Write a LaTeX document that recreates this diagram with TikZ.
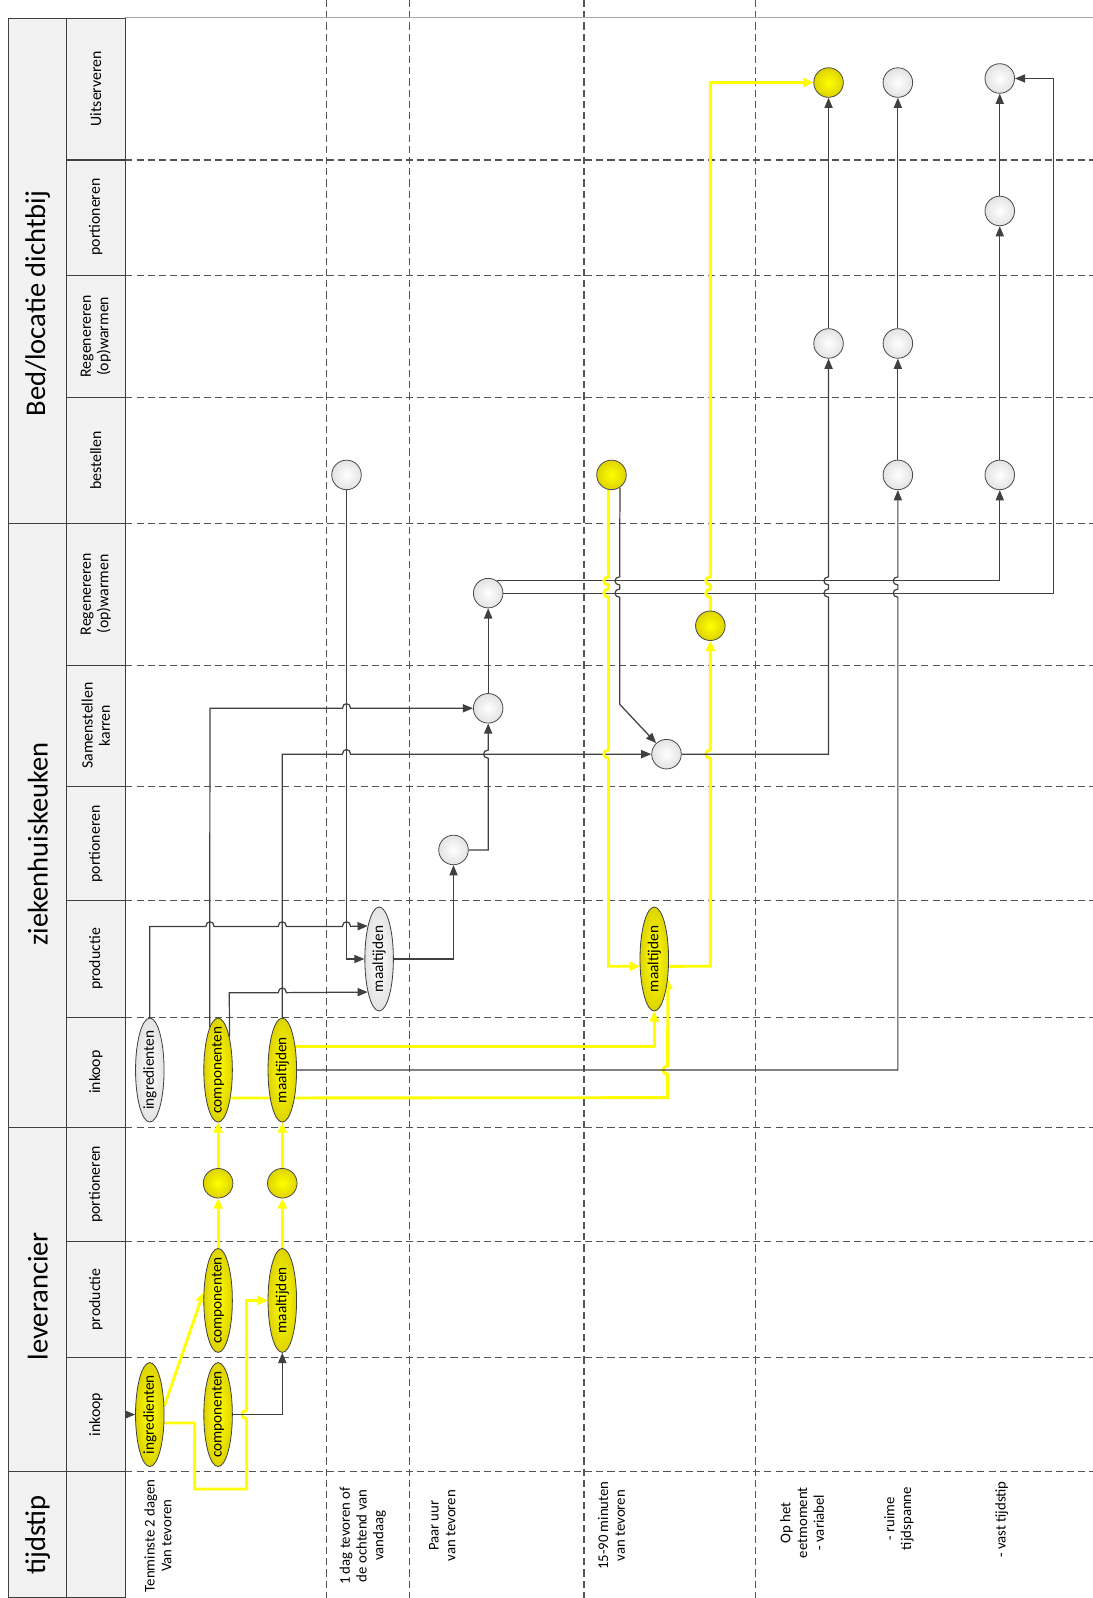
\documentclass[tikz,border=0pt]{standalone}
\usepackage{fontspec}
\setmainfont{Carlito}
\usepackage{graphicx}
\usetikzlibrary{arrows.meta,shapes.geometric}
\definecolor{ylw}{RGB}{255,255,0}
\definecolor{ylwd}{RGB}{222,212,0}
\definecolor{lnk}{RGB}{64,64,64}
\definecolor{grd}{RGB}{85,85,85}
\definecolor{hdr}{RGB}{242,242,242}
\pgfdeclarelayer{gridl}
\pgfdeclarelayer{edgel}
\pgfsetlayers{gridl,edgel,main}
\newcommand{\vt}[1]{\rotatebox{90}{\makebox[0pt]{#1}}}
\newcommand{\hopr}[2]{-- ({#1-4},#2) .. controls ({#1-4},{#2-6}) and ({#1+4},{#2-6}) .. ({#1+4},#2)}
\newcommand{\hopu}[2]{-- (#1,{#2+4}) .. controls ({#1-6},{#2+4}) and ({#1-6},{#2-4}) .. (#1,{#2-4})}
\newcommand{\hopd}[2]{-- (#1,{#2-4}) .. controls ({#1-6},{#2-4}) and ({#1-6},{#2+4}) .. (#1,{#2+4})}
\tikzset{
  grid/.style={draw=grd, line width=1.1pt, dash pattern=on 7pt off 4pt},
  hcell/.style={draw=lnk, line width=1.1pt, fill=hdr},
  blk/.style={draw=lnk, line width=1.2pt, -{Triangle[length=10pt,width=8pt]}},
  yl/.style={draw=ylw, line width=2.8pt, -{Triangle[length=10pt,width=9pt]}},
  elbase/.style={ellipse, draw=black!75, line width=0.8pt, minimum width=28pt, minimum height=102pt, inner sep=0pt, font=\fontsize{15}{17}\selectfont},
  yel/.style={elbase, inner color=ylw, outer color=ylwd},
  wel/.style={elbase, inner color=white, outer color=gray!22},
  cbase/.style={circle, draw=black!70, line width=0.8pt, minimum size=29pt, inner sep=0pt},
  ycir/.style={cbase, inner color=ylw, outer color=ylwd},
  wcir/.style={cbase, inner color=white, outer color=gray!22},
  sub/.style={rotate=90, font=\fontsize{15.5}{17}\selectfont, align=center},
  lane/.style={rotate=90, font=\fontsize{28}{31}\selectfont},
  tlab/.style={rotate=90, font=\fontsize{14.5}{16.5}\selectfont, align=center},
}
\begin{document}
\begin{tikzpicture}[x=1pt,y=-1pt]
\useasboundingbox (0,0) rectangle (1072,1568);
\begin{pgfonlayer}{gridl}
\fill[white] (0,0) rectangle (1072,1568);
\foreach \y in {157,270,390,514,653,772,884,998,1106,1218,1332,1444}
  \draw[grid] (123,\y) -- (1072,\y);
\foreach \x in {320,402,573,741}
  \draw[grid] (\x,0) -- (\x,1568);
\draw[gray!70, line width=1.6pt] (123,17) -- (1072,17);
\end{pgfonlayer}
% header
\foreach \a/\b in {18/514,514/1106,1106/1444,1444/1568}
  \draw[hcell] (8,\a) rectangle (65,\b);
\foreach \a/\b in {18/157,157/270,270/390,390/514,514/653,653/772,772/884,884/998,998/1106,1106/1218,1218/1332,1332/1444,1444/1568}
  \draw[hcell] (65,\a) rectangle (123,\b);
\node[lane] (hBed) at (37,298) {Bed/locatie dichtbij};
\node[lane] (hZkh) at (37,828) {ziekenhuiskeuken};
\node[lane] (hLev) at (37,1272) {leverancier};
\node[lane] (hTijd) at (37,1506) {tijdstip};
\node[sub] (s1) at (94,87) {Uitserveren};
\node[sub] (s2) at (94,213) {portioneren};
\node[sub] (s3) at (94,330) {Regenereren\\(op)warmen};
\node[sub] (s4) at (94,452) {bestellen};
\node[sub] (s5) at (94,583) {Regenereren\\(op)warmen};
\node[sub] (s6) at (94,712) {Samenstellen\\karren};
\node[sub] (s7) at (94,828) {portioneren};
\node[sub] (s8) at (94,941) {productie};
\node[sub] (s9) at (94,1052) {inkoop};
\node[sub] (s10) at (94,1162) {portioneren};
\node[sub] (s11) at (94,1275) {productie};
\node[sub] (s12) at (94,1388) {inkoop};
% time labels
\node[tlab] (t1) at (155,1507) {Tenminste 2 dagen\\Van tevoren};
\node[tlab] (t2) at (356,1507) {1 dag tevoren of\\de ochtend van\\vandaag};
\node[tlab] (t3) at (434,1497) {Paar uur\\van tevoren};
\node[tlab] (t4) at (600,1497) {15-90 minuten\\van tevoren};
\node[tlab] (t5) at (787,1494) {Op het\\eetmoment\\- variabel};
\node[tlab] (t6) at (882,1490) {- ruime\\tijdspanne};
\node[tlab] (t7) at (983,1491) {- vast tijdstip};
% nodes: leverancier
\node[yel] (Li) at (147,1388) {\vt{ingredienten}};
\node[yel] (Lci) at (214,1388) {\vt{componenten}};
\node[yel] (Lcp) at (214,1276) {\vt{componenten}};
\node[yel] (Lmp) at (277,1276) {\vt{maaltijden}};
\node[ycir] (Lpc) at (214,1161) {};
\node[ycir] (Lpm) at (277,1161) {};
% ziekenhuiskeuken
\node[wel] (Zi) at (147,1050) {\vt{ingredienten}};
\node[yel] (Zc) at (214,1050) {\vt{componenten}};
\node[yel] (Zm) at (277,1050) {\vt{maaltijden}};
\node[wel] (Zpw) at (372,941) {\vt{maaltijden}};
\node[yel] (Zpy) at (642,941) {\vt{maaltijden}};
\node[wcir] (Zport) at (445,834) {};
\node[wcir] (ZsA) at (479,695) {};
\node[wcir] (ZsB) at (654,740) {};
\node[wcir] (ZrW) at (479,582) {};
\node[ycir] (ZrY) at (697,614) {};
% bed
\node[wcir] (Bb1) at (340,466) {};
\node[ycir] (Bb2) at (600,466) {};
\node[wcir] (Bb3) at (881,466) {};
\node[wcir] (Bb4) at (981,466) {};
\node[wcir] (Br1) at (813,337) {};
\node[wcir] (Br2) at (881,337) {};
\node[wcir] (Bp) at (981,207) {};
\node[ycir] (Bu1) at (813,81) {};
\node[wcir] (Bu2) at (881,81) {};
\node[wcir] (Bu3) at (981,77) {};
\coordinate (lin) at (121,1388);
\begin{pgfonlayer}{edgel}
% connectors leverancier
\draw[blk] (lin) -- (Li);
\draw[yl] (Li.30) -- (Lcp.150);
\draw[yl] (Li.-30) -| (191,1461) -- (242,1461) \hopu{242}{1388} |- (Lmp);
\draw[blk] (Lci) -| (Lmp);
\draw[yl] (Lcp) -- (Lpc);
\draw[yl] (Lpc) -- (Zc);
\draw[yl] (Lmp) -- (Lpm);
\draw[yl] (Lpm) -- (Zm);
% connectors ziekenhuiskeuken
\draw[blk] (Zi.north) -- (147,909) \hopr{206}{909} \hopr{277}{909} \hopr{340}{909} -- (Zpw.109);
\draw[blk] (Zc.101) -- (206,695) \hopr{340}{695} -- (ZsA);
\draw[blk] (Zc.71) -- (225,974) \hopr{277}{974} -- (Zpw.-109);
\draw[blk] (Zm.north) -- (277,740) \hopr{340}{740} -- (ZsB);
\draw[blk] (Bb1) |- (Zpw);
\draw[blk] (Zpw) -| (Zport);
\draw[blk] (Zport) -- (479,834) \hopu{479}{740} -- (ZsA);
\draw[blk] (ZsA) -- (ZrW);
\draw[yl] (Zm.61) -| (Zpy);
\draw[yl] (Zc.-66) -- (655,1077) \hopu{655}{1050} -- (Zpy.-56);
\draw[blk] (Zm.east) -- (881,1050) \hopu{881}{582} \hopu{881}{570} -- (Bb3);
\draw[blk] (ZrW.56) -| (Bb4);
\draw[blk] (ZrW.east) -- (1034,582) |- (Bu3);
\draw[blk] (Bb2.-56) \hopd{608}{570} \hopd{608}{582} -- (608,691) -- (ZsB);
\draw[yl] (Bb2.-102) \hopd{597}{570} \hopd{597}{582} \hopd{597}{740} -- (597,948) -- (Zpy.-153);
\draw[yl] (Zpy.-27) -- (697,948) \hopu{697}{740} -- (ZrY);
\draw[yl] (ZrY) \hopu{697}{582} \hopu{697}{570} |- (Bu1);
\draw[blk] (ZsB) -- (813,740) \hopu{813}{582} \hopu{813}{570} -- (Br1);
% connectors bed
\draw[blk] (Br1) -- (Bu1);
\draw[blk] (Bb3) -- (Br2);
\draw[blk] (Br2) -- (Bu2);
\draw[blk] (Bb4) -- (Bp);
\draw[blk] (Bp) -- (Bu3);
\end{pgfonlayer}
\end{tikzpicture}
\end{document}
